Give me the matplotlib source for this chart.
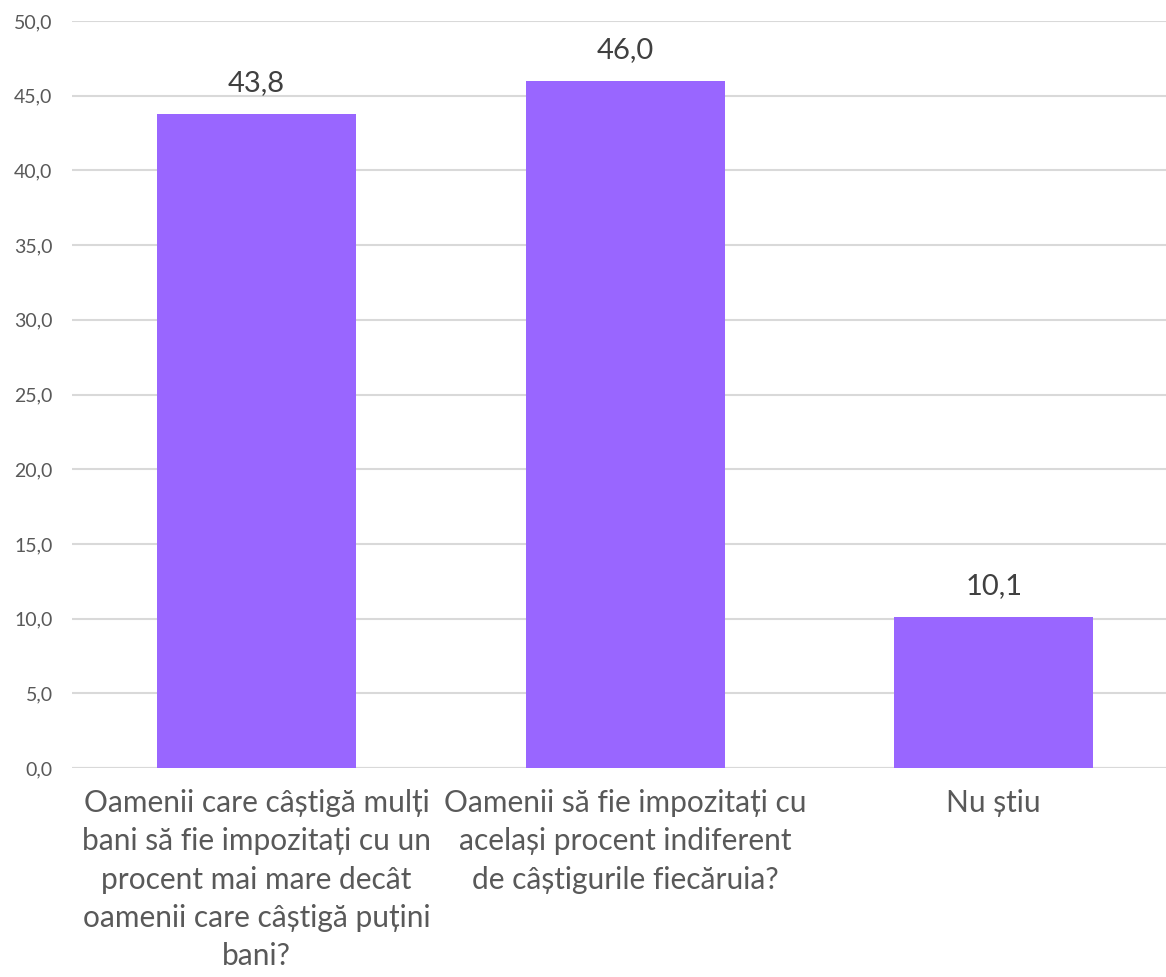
import matplotlib
matplotlib.use("Agg")
import matplotlib.pyplot as plt
import numpy as np

categories = [
    "Oamenii care câștigă mulți\nbani să fie impozitați cu un\nprocent mai mare decât\noamenii care câștigă puțini\nbani?",
    "Oamenii să fie impozitați cu\nacelași procent indiferent\nde câștigurile fiecăruia?",
    "Nu știu",
]
values = [43.8, 46.0, 10.1]
yticks = [0, 5, 10, 15, 20, 25, 30, 35, 40, 45, 50]

BAR = "#9966FF"
GRID = "#D9D9D9"
TEXT = "#595959"

plt.rcParams["font.family"] = ["Lato", "DejaVu Sans"]

fig = plt.figure(figsize=(11.66, 9.77), dpi=100)
# right edge runs past the image, as in the source
ax = fig.add_axes([0.0618, 0.2139, 0.9486, 0.7646])

x = np.arange(len(categories))
ax.bar(x, values, width=0.54, color=BAR, zorder=3)
ax.set_xlim(-0.5, len(categories) - 0.5)
ax.set_ylim(0, 50)
ax.set_yticks(yticks)
ax.set_yticklabels([f"{v:.1f}".replace(".", ",") for v in yticks], fontsize=14, color=TEXT)
ax.yaxis.grid(True, color=GRID, linewidth=1.5, zorder=0)
ax.tick_params(axis="y", length=0, pad=14)
ax.tick_params(axis="x", length=0, pad=15)
ax.set_xticks(x)
ax.set_xticklabels(categories, fontsize=21.5, color=TEXT, linespacing=1.45)
for s in ax.spines.values():
    s.set_visible(False)
ax.axhline(0, color=GRID, linewidth=1.5, zorder=2)

for xi, v in zip(x, values):
    ax.text(xi, v + 1.2, f"{v:.1f}".replace(".", ","), ha="center", va="bottom",
            fontsize=21, color="#404040")

fig.savefig("out.png", dpi=100)
